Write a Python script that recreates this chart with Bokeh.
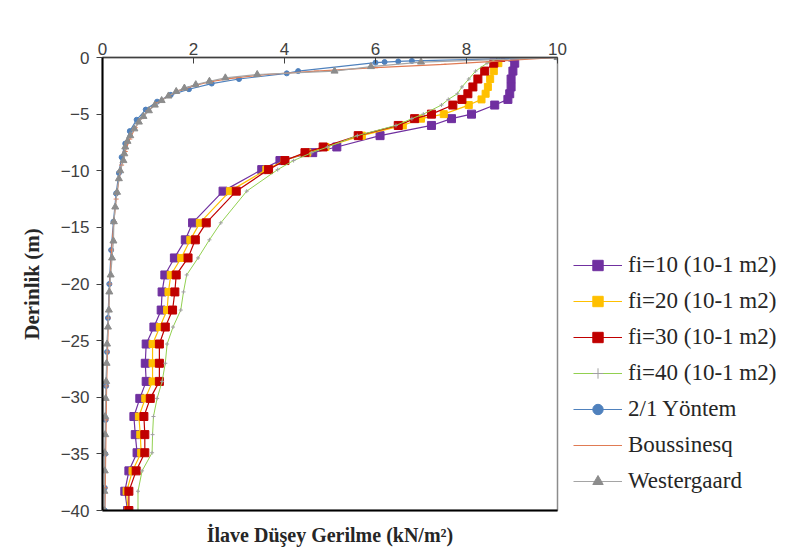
from bokeh.plotting import figure
from bokeh.models import Range1d, LinearAxis, FixedTicker, Legend, LegendItem
from bokeh.embed import file_html
from bokeh.resources import INLINE

# ---- data ----
depth = [0, -0.5, -1.2, -1.9, -2.6, -3.2, -3.7, -4.2, -5.0, -5.4, -6.0, -6.9, -7.9, -8.4,
         -9.1, -9.9, -11.8, -14.6, -16.1, -17.7, -19.2, -20.7, -22.3, -23.8, -25.3, -27.0,
         -28.6, -30.1, -31.7, -33.3, -34.9, -36.5, -38.3, -40]
fi10 = [8.75, 9.06, 9.02, 8.98, 8.98, 8.95, 8.91, 8.62, 8.11, 7.67, 7.23, 6.10, 5.15, 4.62,
        3.90, 3.50, 2.65, 1.98, 1.82, 1.58, 1.37, 1.31, 1.29, 1.13, 0.96, 0.94, 0.96, 0.82,
        0.69, 0.72, 0.76, 0.58, 0.49, 0.55]
fi20 = [8.75, 8.70, 8.60, 8.52, 8.47, 8.42, 8.33, 8.05, 7.50, 7.00, 6.60, 5.70, 4.90, 4.50,
        4.00, 3.60, 2.80, 2.14, 1.93, 1.73, 1.50, 1.45, 1.42, 1.26, 1.10, 1.10, 1.10, 0.94,
        0.80, 0.83, 0.85, 0.66, 0.53, 0.56]
fi30 = [8.75, 8.60, 8.40, 8.25, 8.14, 8.03, 7.90, 7.70, 7.23, 6.86, 6.50, 5.62, 4.85, 4.45,
        4.01, 3.65, 2.94, 2.28, 2.04, 1.88, 1.62, 1.59, 1.54, 1.38, 1.25, 1.25, 1.25, 1.05,
        0.91, 0.93, 0.93, 0.74, 0.58, 0.58]
fi40 = [8.75, 8.45, 8.20, 8.05, 7.90, 7.80, 7.60, 7.45, 7.05, 6.80, 6.45, 5.60, 4.95, 4.60,
        4.20, 3.85, 3.17, 2.60, 2.35, 2.10, 1.85, 1.78, 1.72, 1.55, 1.42, 1.38, 1.31, 1.20,
        1.12, 1.10, 1.09, 0.87, 0.78, 0.78]

y21 = [0, -0.3, -0.35, -0.4, -0.45, -1.2, -1.4, -1.9, -2.3, -2.8, -3.3, -3.9, -4.6, -5.5,
       -6.5, -7.6, -8.8, -10.2, -12, -14.5, -17, -20, -23, -26, -29, -32, -35, -38, -40]
x21 = [10, 6.8, 6.5, 6.2, 6.0, 4.3, 4.05, 3.0, 2.4, 1.9, 1.5, 1.2, 0.95, 0.75,
       0.6, 0.5, 0.42, 0.36, 0.3, 0.24, 0.19, 0.15, 0.12, 0.1, 0.08, 0.07, 0.06, 0.05, 0.05]

yb = [0, -0.6, -0.9, -1.2, -1.5, -1.8, -2.1, -2.5, -2.9, -3.4, -4.0, -4.7, -5.4, -6.2, -7.2,
      -8.3, -9.5, -10.8, -12.5, -14.5, -17, -20, -23, -26, -29, -32, -35, -38, -40]
xb = [10, 7.5, 6.0, 4.7, 3.6, 2.9, 2.4, 2.0, 1.7, 1.45, 1.2, 1.0, 0.85, 0.72, 0.6,
      0.5, 0.42, 0.36, 0.3, 0.25, 0.2, 0.16, 0.13, 0.11, 0.09, 0.08, 0.07, 0.06, 0.05]

yw = [0, -0.4, -0.8, -1.2, -1.5, -1.8, -2.1, -2.4, -2.7, -3.0, -3.4, -3.8, -4.2, -4.7, -5.2,
      -5.7, -6.3, -6.9, -7.4, -7.9, -8.5, -9.1, -10.0, -10.7, -11.9, -13.2, -14.5, -16.2,
      -17.7, -19.2, -20.7, -22.3, -23.8, -25.3, -27.0, -28.6, -30.1, -31.7, -33.3, -34.9,
      -36.5, -38.3, -40]
xw = [10, 7.0, 5.9, 5.1, 3.4, 2.7, 2.35, 2.05, 1.8, 1.62, 1.45, 1.3, 1.15, 1.02, 0.9,
      0.8, 0.7, 0.61, 0.55, 0.5, 0.48, 0.46, 0.39, 0.36, 0.32, 0.28, 0.25, 0.24,
      0.21, 0.18, 0.15, 0.14, 0.12, 0.1, 0.09, 0.08, 0.07, 0.06, 0.06, 0.05,
      0.05, 0.04, 0.04]

x_ticks = [0, 2, 4, 6, 8, 10]
y_ticks = [0, -5, -10, -15, -20, -25, -30, -35, -40]

labels = ["fi=10 (10-1 m2)", "fi=20 (10-1 m2)", "fi=30 (10-1 m2)", "fi=40 (10-1 m2)",
          "2/1 Yöntem", "Boussinesq", "Westergaard"]
x_title = "İlave Düşey Gerilme (kN/m²)"
y_title = "Derinlik (m)"

# ---- figure ----
p = figure(frame_width=455, frame_height=453, output_backend="svg", toolbar_location=None,
           x_range=Range1d(0, 10), y_range=Range1d(-40, 0),
           x_axis_location=None, y_axis_location=None,
           min_border_left=102, min_border_right=226, min_border_top=57, min_border_bottom=43)
p.grid.visible = False
p.outline_line_color = "#8c8c8c"
p.outline_line_width = 1.5
p.background_fill_color = "white"
p.border_fill_color = "white"

tick_font = "Liberation Sans"
ax_top = LinearAxis(ticker=FixedTicker(ticks=x_ticks))
ax_top.major_tick_in = 6
ax_top.major_tick_out = 0
ax_top.minor_tick_line_color = None
ax_top.axis_line_color = "#404040"
ax_top.axis_line_width = 1.5
ax_top.major_tick_line_color = "#404040"
ax_top.major_label_text_font = tick_font
ax_top.major_label_text_font_size = "17px"
ax_top.major_label_text_color = "#404040"
ax_top.major_label_standoff = 3
p.add_layout(ax_top, "above")

ax_left = LinearAxis(ticker=FixedTicker(ticks=y_ticks))
ax_left.major_tick_in = 0
ax_left.major_tick_out = 6
ax_left.minor_tick_line_color = None
ax_left.axis_line_color = "#000000"
ax_left.axis_line_width = 2
ax_left.major_tick_line_color = "#404040"
ax_left.major_label_text_font = tick_font
ax_left.major_label_text_font_size = "17px"
ax_left.major_label_text_color = "#404040"
ax_left.major_label_standoff = 7
ax_left.axis_label = y_title
ax_left.axis_label_text_font = "Liberation Serif"
ax_left.axis_label_text_font_style = "bold"
ax_left.axis_label_text_font_size = "21px"
ax_left.axis_label_text_color = "#262626"
ax_left.axis_label_standoff = 14
p.add_layout(ax_left, "left")

ax_bot = LinearAxis(ticker=FixedTicker(ticks=[]))
ax_bot.major_tick_in = 0
ax_bot.major_tick_out = 0
ax_bot.minor_tick_line_color = None
ax_bot.major_label_text_font_size = "0px"
ax_bot.axis_line_color = "#000000"
ax_bot.axis_line_width = 2
ax_bot.axis_label = x_title
ax_bot.axis_label_text_font = "Liberation Serif"
ax_bot.axis_label_text_font_style = "bold"
ax_bot.axis_label_text_font_size = "20px"
ax_bot.axis_label_text_color = "#262626"
ax_bot.axis_label_standoff = 13
p.add_layout(ax_bot, "below")

items = []

def series(xs, ys, color, marker, msize, label, lw=1.2, mcolor=None):
    mc = mcolor or color
    r1 = p.line(xs, ys, line_color=color, line_width=lw)
    r2 = p.scatter(xs, ys, marker=marker, size=msize, fill_color=mc, line_color=mc)
    items.append(LegendItem(label=label, renderers=[r1, r2]))

series(fi10, depth, "#7030A0", "square", 8, labels[0])
series(fi20, depth, "#FFC000", "square", 7, labels[1])
series(fi30, depth, "#C00000", "square", 8, labels[2])
series(fi40, depth, "#92D050", "cross", 4, labels[3], lw=1.0, mcolor="#A0A0A0")
series(x21, y21, "#4F81BD", "circle", 5, labels[4])
series(xb, yb, "#E07B54", "dash", 5, labels[5])
series(xw, yw, "#A5A5A5", "triangle", 7, labels[6], mcolor="#8C8C8C")

legend = Legend(items=items, location="bottom_left")
legend.border_line_color = None
legend.background_fill_alpha = 0
legend.padding = 0
legend.margin = 16
legend.padding = 0
legend.spacing = 10
legend.glyph_width = 49
legend.glyph_height = 26
legend.label_height = 26
legend.label_standoff = 6
legend.label_text_font = "Liberation Serif"
legend.label_text_font_size = "23px"
legend.label_text_color = "#262626"
p.add_layout(legend, "right")

open("out.html", "w").write(file_html(p, INLINE))
